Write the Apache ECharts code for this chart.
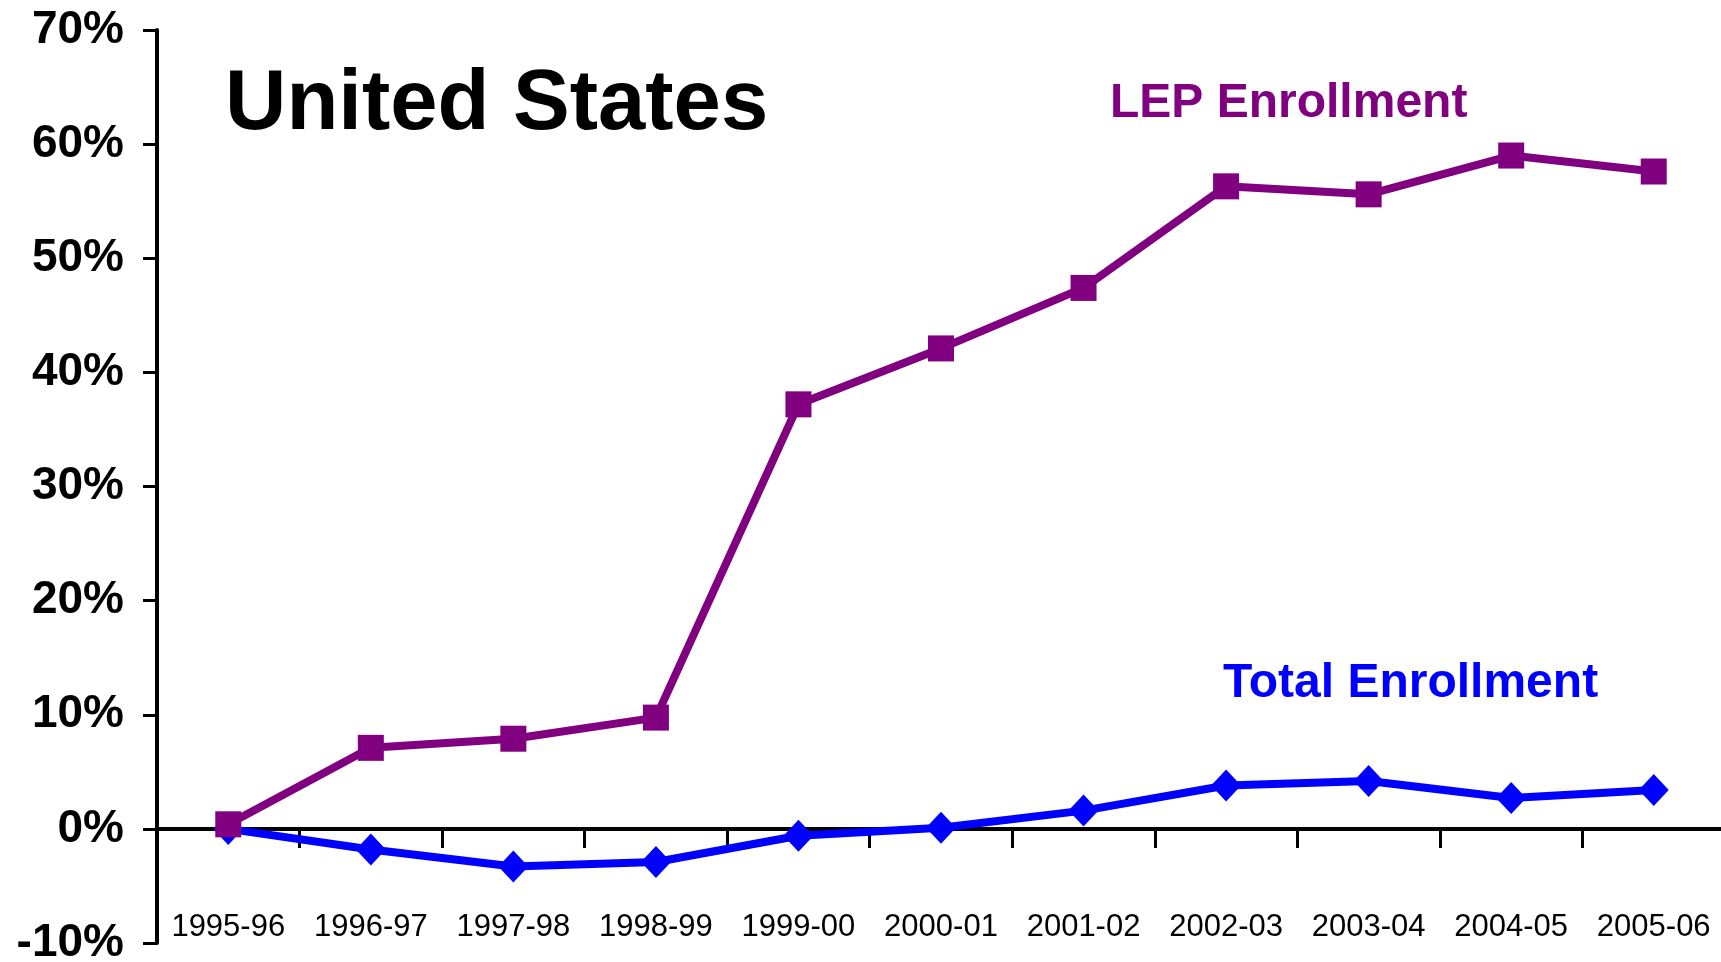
<!DOCTYPE html>
<html>
<head>
<meta charset="utf-8">
<script src="https://cdn.jsdelivr.net/npm/echarts@6/dist/echarts.min.js"></script>
<style>
  html, body { margin: 0; padding: 0; background: #ffffff; }
  #chart { width: 1721px; height: 962px; }
</style>
</head>
<body>
<div id="chart"></div>
<script>
const categories = ['1995-96','1996-97','1997-98','1998-99','1999-00','2000-01','2001-02','2002-03','2003-04','2004-05','2005-06'];
const lepEnrollment = [0.4, 7.1, 7.9, 9.75, 37.2, 42.1, 47.4, 56.3, 55.6, 59.0, 57.6];
const totalEnrollment = [0.0, -1.8, -3.3, -2.9, -0.6, 0.1, 1.6, 3.8, 4.2, 2.7, 3.4];
const yTicks = { min: -10, max: 70, interval: 10 };
const chartTitle = 'United States';
const lepName = 'LEP Enrollment';
const totalName = 'Total Enrollment';

const FONT = '"Liberation Sans", Arial, Helvetica, sans-serif';
const PURPLE = '#800080';
const BLUE = '#0000FF';

const chart = echarts.init(document.getElementById('chart'), null, { renderer: 'canvas' });
chart.setOption({
  animation: false,
  backgroundColor: '#ffffff',
  grid: { left: 157, top: 30, width: 1568, height: 913, containLabel: false, outerBoundsMode: 'none' },
  xAxis: {
    type: 'category',
    data: categories,
    boundaryGap: true,
    axisLine: { show: true, onZero: true, lineStyle: { color: '#000', width: 4 } },
    axisTick: { show: true, inside: false, length: 19, lineStyle: { color: '#000', width: 3 } },
    axisLabel: {
      show: true, interval: 0, margin: -16, verticalAlign: 'middle',
      color: '#000', fontFamily: FONT, fontSize: 31
    },
    splitLine: { show: false }
  },
  yAxis: {
    type: 'value',
    min: yTicks.min, max: yTicks.max, interval: yTicks.interval,
    axisLine: { show: true, onZero: false, lineStyle: { color: '#000', width: 4 } },
    axisTick: { show: true, inside: false, length: 14, lineStyle: { color: '#000', width: 3 } },
    axisLabel: {
      formatter: '{value}%', margin: 33, color: '#000',
      fontFamily: FONT, fontSize: 46, fontWeight: 'bold'
    },
    splitLine: { show: false }
  },
  graphic: [
    { type: 'text', x: 225, y: 106, style: { text: chartTitle, font: 'bold 85px ' + FONT, fill: '#000', align: 'left', verticalAlign: 'middle' } },
    { type: 'text', x: 1110, y: 104, style: { text: lepName, font: 'bold 48px ' + FONT, fill: PURPLE, align: 'left', verticalAlign: 'middle' } },
    { type: 'text', x: 1223, y: 684, style: { text: totalName, font: 'bold 48px ' + FONT, fill: BLUE, align: 'left', verticalAlign: 'middle' } }
  ],
  series: [
    {
      name: totalName, type: 'line', data: totalEnrollment, z: 2,
      symbol: 'diamond', symbolSize: [30, 32],
      lineStyle: { color: BLUE, width: 8 },
      itemStyle: { color: BLUE }
    },
    {
      name: lepName, type: 'line', data: lepEnrollment, z: 3,
      symbol: 'rect', symbolSize: 26,
      lineStyle: { color: PURPLE, width: 8 },
      itemStyle: { color: PURPLE }
    }
  ]
});
</script>
</body>
</html>
